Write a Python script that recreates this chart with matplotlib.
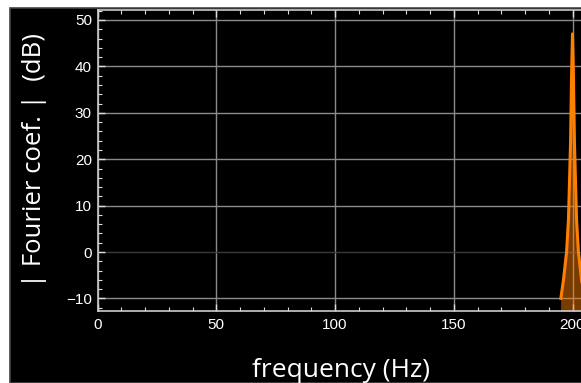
import matplotlib
matplotlib.use("Agg")
import matplotlib.pyplot as plt
from matplotlib.patches import Rectangle
from matplotlib.ticker import MultipleLocator

# spectrum around the 200 Hz line
freq = [195.0, 196.2, 197.5, 198.3, 199.2, 199.6, 200.0,
        200.4, 200.8, 201.7, 202.5, 203.8, 205.0]
db = [-10.3, -6.0, 0.0, 7.0, 24.0, 38.0, 47.0,
      38.0, 24.0, 7.0, 0.0, -6.0, -10.3]

x_ticks = [0, 50, 100, 150, 200]
y_ticks = [-10, 0, 10, 20, 30, 40, 50]
y_tick_labels = ["\u221210", "0", "10", "20", "30", "40", "50"]

W, H = 581, 383
fig = plt.figure(figsize=(W / 100, H / 100), dpi=100, facecolor="white")

# black panel behind the plot
fig.patches.append(Rectangle((9.5 / W, 0), 1, (H - 7.5) / H, transform=fig.transFigure,
                             facecolor="black", edgecolor="#444444", lw=1.2, zorder=-5))

x0, y_bot, y_top = 97.5, 311, 10
px_per_hz = 2.375
xmax = 205
ax = fig.add_axes([x0 / W, (H - y_bot) / H, xmax * px_per_hz / W, (y_bot - y_top) / H])
ax.set_facecolor("black")

ymin, ymax = -12.7, 52.15
ax.set_xlim(0, xmax)
ax.set_ylim(ymin, ymax)

ax.fill_between(freq, db, ymin, color="#ff7f00", alpha=0.48, lw=0, zorder=2)
ax.plot(freq, db, color="#ff7f00", lw=2.2, solid_capstyle="butt", zorder=3)

# grid
for x in x_ticks:
    ax.axvline(x, color="#8a8a8a", lw=1.0, zorder=1)
for y in y_ticks:
    c = "#3a3a3a" if y == 0 else "#8a8a8a"
    ax.axhline(y, color=c, lw=1.0, zorder=1)

ax.set_xticks(x_ticks)
ax.set_yticks(y_ticks)
ax.xaxis.set_minor_locator(MultipleLocator(10))
ax.yaxis.set_minor_locator(MultipleLocator(2))
ax.tick_params(which="both", direction="in", colors="#dddddd", top=True, right=False,
               labelcolor="white", labelsize=11)
ax.tick_params(which="major", length=5, width=1.0)
ax.tick_params(which="minor", length=3, width=0.8)
ax.tick_params(axis="y", which="major", pad=4)
ax.tick_params(axis="x", which="major", pad=5)
ax.set_yticklabels(y_tick_labels)
for lab in ax.get_xticklabels() + ax.get_yticklabels():
    lab.set_family("Liberation Sans")

for side in ["left", "bottom", "top"]:
    ax.spines[side].set_color("#cccccc")
    ax.spines[side].set_linewidth(1.2)
ax.spines["right"].set_visible(False)

fig.text(341 / W, 1 - 377 / H, "frequency (Hz)", color="white", fontsize=19,
         family="Open Sans", ha="center", va="baseline")
fig.text(35 / W, 1 - 160 / H, "| Fourier coef. |  (dB)", color="white", fontsize=18.5,
         family="Open Sans", ha="center", va="center", rotation=90)

fig.savefig("out.png", dpi=100, facecolor="white")
